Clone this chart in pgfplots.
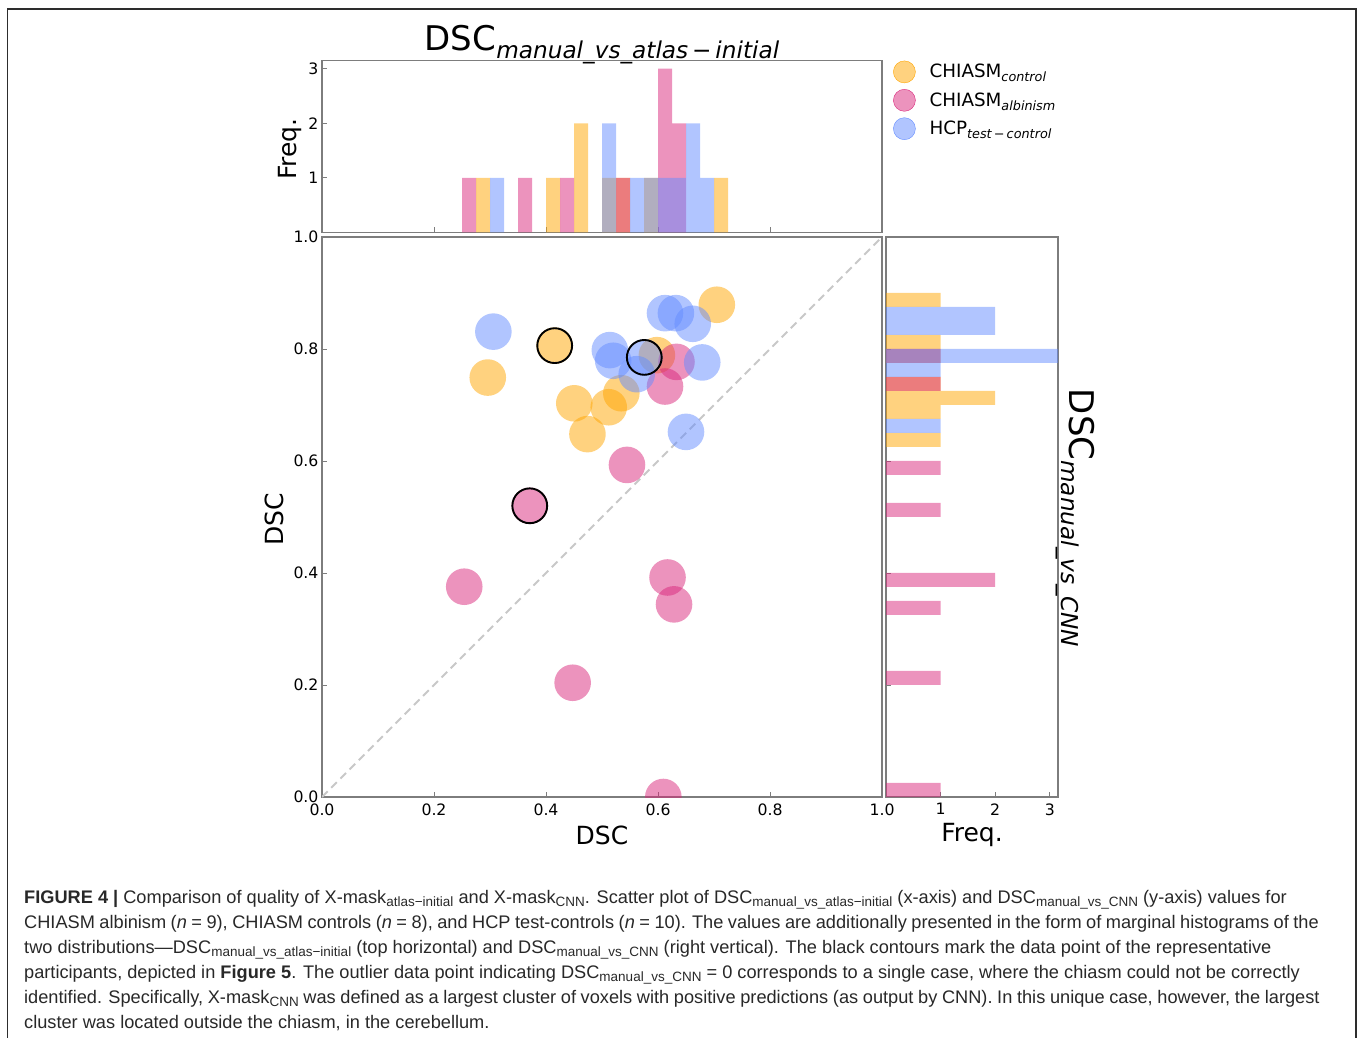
\documentclass[border=0pt]{standalone}
\usepackage{pgfplots}
\pgfplotsset{compat=1.18}
\usepackage{fontspec}
\setmainfont{DejaVu Sans}
\newfontfamily\capfont{Liberation Sans}
\definecolor{cctl}{RGB}{255,165,0}
\definecolor{calb}{RGB}{217,39,123}
\definecolor{chcp}{RGB}{100,140,255}
\definecolor{axgray}{RGB}{125,125,125}
\definecolor{capcol}{RGB}{40,40,40}
\definecolor{framecol}{RGB}{45,45,45}
\definecolor{diag}{RGB}{200,200,200}
\newcommand\fs[1]{\fontsize{#1}{#1}\selectfont}
\newcommand\isub[3]{\raisebox{-#2pt}{\fs{#1}\itshape #3}}
\newcommand\csub[1]{\raisebox{-3.5pt}{\fs{13.5}#1}}

\pgfplotsset{
  base/.style={
    scale only axis, anchor=south west,
    axis line style={axgray, line width=1.1pt},
    tick style={axgray, line width=0.9pt},
    tick align=inside, major tick length=5pt,
    xtick pos=left, ytick pos=left,
    tick label style={font=\fs{15.7}, text=black},
    xticklabel style={yshift=-3pt},
    /pgf/number format/assume math mode=true,
    clip marker paths=true,
  },
  dot/.style={only marks, mark=*, mark size=18.3pt,
    mark options={draw opacity=0, fill=#1, fill opacity=0.5}},
}

\pgfplotstableread{
x y
0.705 0.879
0.598 0.789
0.4155 0.806
0.296 0.749
0.4505 0.703
0.474 0.648
0.512 0.696
0.5345 0.721
}\ctl
\pgfplotstableread{
x y
0.633 0.777
0.6125 0.733
0.5446 0.593
0.371 0.520
0.254 0.3755
0.617 0.392
0.6286 0.344
0.4476 0.204
0.6095 0.0
}\alb
\pgfplotstableread{
x y
0.306 0.831
0.6125 0.864
0.632 0.864
0.662 0.845
0.514 0.798
0.520 0.779
0.562 0.755
0.5755 0.785
0.679 0.776
0.650 0.652
}\hcp

\begin{document}
\begin{tikzpicture}[x=1pt,y=1pt]
\useasboundingbox (0,0) rectangle (1360,1037);
\draw[framecol, line width=1.6pt] (7.5,-20) -- (7.5,1028) -- (1356,1028) -- (1356,-20);

% ---------- main scatter ----------
\begin{axis}[base, at={(322pt,240pt)}, width=560pt, height=560pt,
  xmin=0,xmax=1,ymin=0,ymax=1,
  xtick={0,0.2,0.4,0.6,0.8,1}, xticklabels={0.0,0.2,0.4,0.6,0.8,1.0},
  ytick={0,0.2,0.4,0.6,0.8,1}, yticklabels={0.0,0.2,0.4,0.6,0.8,1.0}]
\addplot[diag, line width=1.8pt, dash pattern=on 8pt off 5pt] coordinates {(0,0) (1,1)};
\addplot[dot=cctl] table {\ctl};
\addplot[dot=calb] table {\alb};
\addplot[dot=chcp] table {\hcp};
\addplot[only marks, mark=o, mark size=17.4pt, mark options={draw=black, line width=1.9pt}] coordinates {(0.5755,0.785) (0.4155,0.806) (0.371,0.520)};
\end{axis}

% ---------- top histogram ----------
\begin{axis}[base, at={(322pt,804.5pt)}, width=560pt, height=172pt,
  xmin=0,xmax=1,ymin=0,ymax=3.15,
  xtick={0.2,0.4,0.6,0.8}, xticklabels={},
  ytick={1,2,3}, yticklabels={1,2,3},
  legend style={at={(1,1)}, anchor=north west, xshift=11pt, yshift=0pt,
    draw=none, fill=none, inner sep=0pt, row sep=6pt, font=\fs{18.3},
    nodes={inner sep=0pt},
    /tikz/every odd column/.append style={column sep=14pt}},
  legend cell align=left]
\addplot[ybar, bar width=0.025, bar shift=0pt, draw=none, fill=cctl, fill opacity=0.5, forget plot] coordinates {
(0.2875,1) (0.4125,1) (0.4625,2) (0.5125,1) (0.5375,1) (0.5875,1) (0.7125,1)};
\addplot[ybar, bar width=0.025, bar shift=0pt, draw=none, fill=calb, fill opacity=0.5, forget plot] coordinates {
(0.2625,1) (0.3625,1) (0.4375,1) (0.5375,1) (0.6125,3) (0.6375,2)};
\addplot[ybar, bar width=0.025, bar shift=0pt, draw=none, fill=chcp, fill opacity=0.5, forget plot] coordinates {
(0.3125,1) (0.5125,2) (0.5625,1) (0.5875,1) (0.6125,1) (0.6375,1) (0.6625,2) (0.6875,1)};
\addlegendimage{legend image code/.code={\fill[cctl, fill opacity=0.5] (11pt,0pt) circle (11pt);}}
\addlegendentry{CHIASM\isub{12.8}{4}{control}}
\addlegendimage{legend image code/.code={\fill[calb, fill opacity=0.5] (11pt,0pt) circle (11pt);}}
\addlegendentry{CHIASM\isub{12.8}{4}{albinism}}
\addlegendimage{legend image code/.code={\fill[chcp, fill opacity=0.5] (11pt,0pt) circle (11pt);}}
\addlegendentry{HCP\isub{12.8}{4}{test\,−\,control}}
\end{axis}

% ---------- right histogram ----------
\begin{axis}[base, at={(886pt,240pt)}, width=172pt, height=560pt,
  xmin=0,xmax=3.15,ymin=0,ymax=1,
  xtick={1,2,3}, xticklabels={1,2,3},
  ytick={0.2,0.4,0.6,0.8}, yticklabels={}]
\addplot[xbar, bar width=0.025, bar shift=0pt, draw=none, fill=cctl, fill opacity=0.5] coordinates {
(1,0.8875) (1,0.8125) (1,0.7875) (1,0.7375) (2,0.7125) (1,0.6875) (1,0.6375)};
\addplot[xbar, bar width=0.025, bar shift=0pt, draw=none, fill=calb, fill opacity=0.5] coordinates {
(1,0.7875) (1,0.7375) (1,0.5875) (1,0.5125) (2,0.3875) (1,0.3375) (1,0.2125) (1,0.0125)};
\addplot[xbar, bar width=0.025, bar shift=0pt, draw=none, fill=chcp, fill opacity=0.5] coordinates {
(2,0.8625) (2,0.8375) (4,0.7875) (1,0.7625) (1,0.6625)};
\end{axis}

% ---------- labels ----------
\node[font=\fs{25}] at (602,202) {DSC};
\node[font=\fs{25}] at (972,202) {Freq.};
\node[font=\fs{25}, rotate=90] at (274,518) {DSC};
\node[font=\fs{25}, rotate=90] at (290,888) {Freq.};
\node[anchor=base, font=\fs{34}, inner sep=0pt] at (602,986) {DSC\isub{23.2}{7.5}{manual\_vs\_atlas\,−\,initial}};
\node[anchor=base, rotate=-90, font=\fs{34}, inner sep=0pt] at (1069,519) {DSC\isub{23.2}{7.5}{manual\_vs\_CNN}};

% ---------- caption ----------
\begin{scope}[every node/.style={anchor=base west, inner sep=0pt, font=\capfont\fs{18.2}, text=capcol}]
\node at (24,134) {{\bfseries FIGURE 4 |} Comparison of quality of X-mask\csub{atlas−initial} and X-mask\csub{CNN}. Scatter plot of DSC\csub{manual\_vs\_atlas−initial} (x-axis) and DSC\csub{manual\_vs\_CNN} (y-axis) values for};
\node at (24,109) {\spaceskip=4.5pt CHIASM albinism (\textit{n} = 9), CHIASM controls (\textit{n} = 8), and HCP test-controls (\textit{n} = 10). The values are additionally presented in the form of marginal histograms of the};
\node at (24,84) {two distributions—DSC\csub{manual\_vs\_atlas−initial} (top horizontal) and DSC\csub{manual\_vs\_CNN} (right vertical). The black contours mark the data point of the representative};
\node at (24,59) {participants, depicted in {\bfseries Figure 5}. The outlier data point indicating DSC\csub{manual\_vs\_CNN} = 0 corresponds to a single case, where the chiasm could not be correctly};
\node at (24,34) {\spaceskip=4.65pt identified. Specifically, X-mask\csub{CNN} was defined as a largest cluster of voxels with positive predictions (as output by CNN). In this unique case, however, the largest};
\node at (24,9) {cluster was located outside the chiasm, in the cerebellum.};
\end{scope}
\end{tikzpicture}
\end{document}
